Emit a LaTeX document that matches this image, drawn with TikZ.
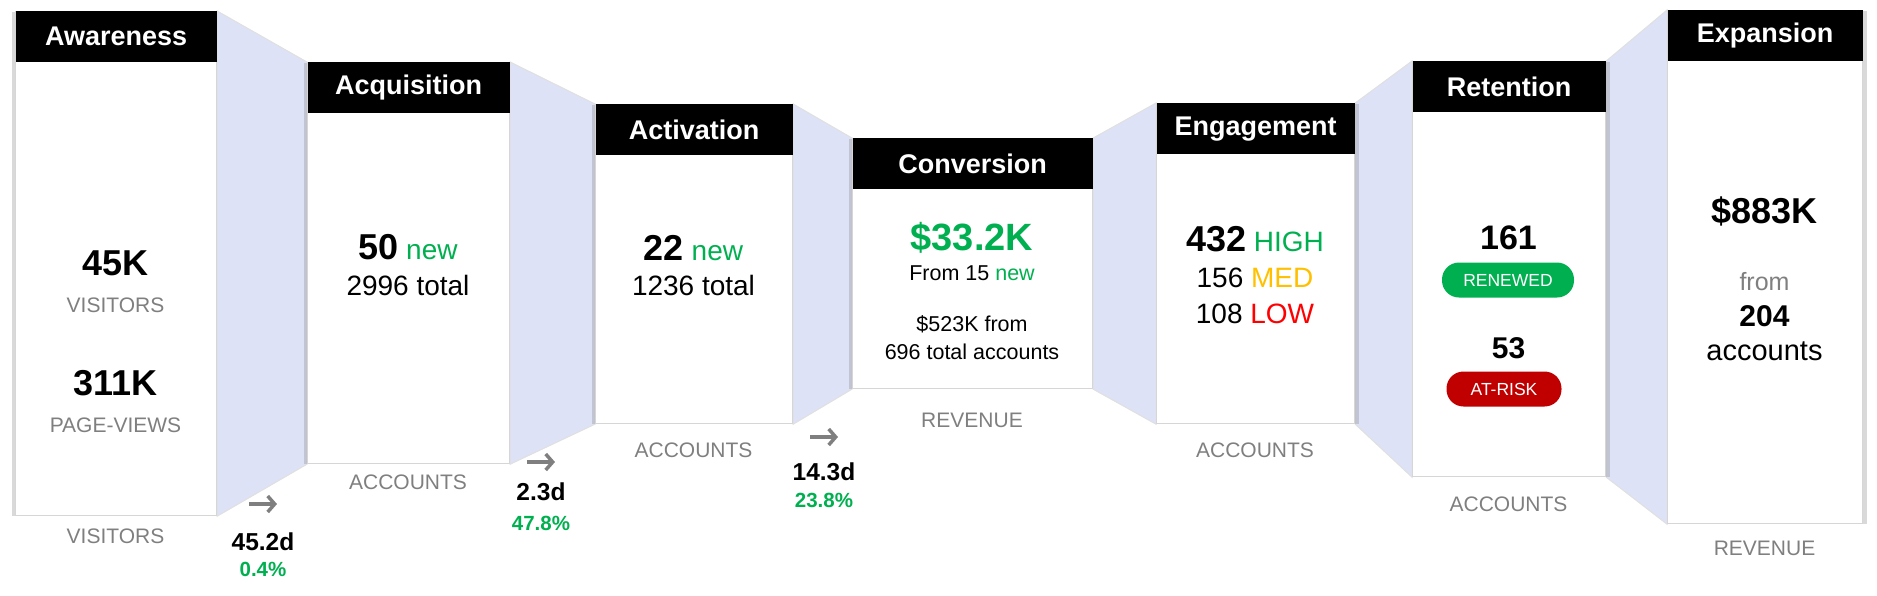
\documentclass[tikz,border=0pt]{standalone}
\usepackage{fontspec}
\setmainfont{Liberation Sans}
\usepackage{xcolor}
\usetikzlibrary{arrows.meta,shadows,backgrounds}
\definecolor{LV}{HTML}{DEE2F6}
\definecolor{GR}{HTML}{00B050}
\definecolor{RD}{HTML}{FF0000}
\definecolor{YL}{HTML}{FFC000}
\definecolor{DR}{HTML}{C00000}
\definecolor{GY}{HTML}{7F7F7F}
\newcommand\bigfig[1]{{\fontsize{36}{40}\selectfont\bfseries #1}}

\begin{document}
\begin{tikzpicture}[x=1pt, y=-1pt,
  stagebody/.style={draw=black!16, line width=1.2pt, fill=white, anchor=north west, inner sep=0pt},
  shadowl/.style={drop shadow={shadow xshift=-4pt, shadow yshift=0pt, opacity=0.3}},
  shadowr/.style={drop shadow={shadow xshift=4pt, shadow yshift=0pt, opacity=0.3}},
  stagehead/.style={fill=black, text=white, anchor=north, minimum height=51pt, inner sep=0pt, font=\fontsize{27}{30}\selectfont\bfseries},
  funnel/.style={fill=LV, draw=black!12, line width=1pt},
  bignum/.style={font=\fontsize{36}{40}\selectfont\bfseries},
  midtxt/.style={font=\fontsize{28}{32}\selectfont},
  smalltxt/.style={font=\fontsize{21.5}{28}\selectfont, align=center},
  greylab/.style={text=GY, font=\fontsize{21}{24}\selectfont},
  pill/.style={rounded corners=17pt, text=white, minimum height=35pt, inner sep=0pt, font=\fontsize{17.5}{20}\selectfont},
  steparrow/.style={draw=GY, line width=3.5pt, -{Straight Barb[length=7pt, width=16pt]}},
  daystxt/.style={font=\fontsize{24.5}{28}\selectfont\bfseries},
  ratetxt/.style={text=GR, font=\fontsize{20.5}{24}\selectfont\bfseries}]%
\useasboundingbox (0,0) rectangle (1877,595);%
\node[stagebody, shadowl, minimum width=201pt, minimum height=504pt] (aw) at (15,11) {};%
\node[stagebody, shadowl, minimum width=202pt, minimum height=401pt] (acq) at (307,62) {};%
\node[stagebody, shadowl, minimum width=197pt, minimum height=319pt] (act) at (595,104) {};%
\node[stagebody, shadowl, minimum width=240pt, minimum height=250pt] (conv) at (852,138) {};%
\node[stagebody, shadowr, minimum width=198pt, minimum height=320pt] (eng) at (1156,103) {};%
\node[stagebody, shadowr, minimum width=193pt, minimum height=415pt] (ret) at (1412,61) {};%
\node[stagebody, shadowr, minimum width=195pt, minimum height=513pt] (exp) at (1667,10) {};%
\node[stagehead, minimum width=201pt] (awh) at (aw.north) {Awareness};%
\node[stagehead, minimum width=202pt] (acqh) at (acq.north) {Acquisition};%
\node[stagehead, minimum width=197pt] (acth) at (act.north) {Activation};%
\node[stagehead, minimum width=240pt] (convh) at (conv.north) {Conversion};%
\node[stagehead, minimum width=198pt] (engh) at (eng.north) {Engagement};%
\node[stagehead, minimum width=193pt] (reth) at (ret.north) {Retention};%
\node[stagehead, minimum width=195pt] (exph) at (exp.north) {Expansion};%
\begin{scope}[on background layer]%
\draw[funnel] (aw.north east) -- (acq.north west) -- (acq.south west) -- (aw.south east) -- cycle;%
\draw[funnel] (acq.north east) -- (act.north west) -- (act.south west) -- (acq.south east) -- cycle;%
\draw[funnel] (act.north east) -- (conv.north west) -- (conv.south west) -- (act.south east) -- cycle;%
\draw[funnel] (conv.north east) -- (eng.north west) -- (eng.south west) -- (conv.south east) -- cycle;%
\draw[funnel] (eng.north east) -- (ret.north west) -- (ret.south west) -- (eng.south east) -- cycle;%
\draw[funnel] (ret.north east) -- (exp.north west) -- (exp.south west) -- (ret.south east) -- cycle;%
\end{scope}%
\node[bignum] (awv) at (115.5,263) {45K};%
\node[greylab] (awvl) at (115.5,305) {VISITORS};%
\node[bignum] (awp) at (115.5,383) {311K};%
\node[greylab] (awpl) at (115.5,425) {PAGE-VIEWS};%
\node[greylab] (awu) at (115.5,536) {VISITORS};%
\node[midtxt] (acqn) at (408,247) {\bigfig{50} \textcolor{GR}{new}};%
\node[midtxt] (acqt) at (408,285) {2996 total};%
\node[greylab] (acqu) at (408,482) {ACCOUNTS};%
\node[midtxt] (actn) at (693.5,248) {\bigfig{22} \textcolor{GR}{new}};%
\node[midtxt] (actt) at (693.5,285) {1236 total};%
\node[greylab] (actu) at (693.5,450) {ACCOUNTS};%
\node[text=GR, font=\fontsize{38}{42}\selectfont\bfseries] (convv) at (972,238) {\$33.2K};%
\node[smalltxt] (convn) at (972,273) {From 15 \textcolor{GR}{new}};%
\node[smalltxt] (convt) at (972,338) {\$523K from\\696 total accounts};%
\node[greylab] (convu) at (972,420) {REVENUE};%
\node[midtxt] (engh1) at (1255,239) {\bigfig{432} \textcolor{GR}{HIGH}};%
\node[midtxt] (engm) at (1255,278) {156 \textcolor{YL}{MED}};%
\node[midtxt] (engl) at (1255,314) {108 \textcolor{RD}{LOW}};%
\node[greylab] (engu) at (1255,450) {ACCOUNTS};%
\node[font=\fontsize{34}{38}\selectfont\bfseries] (retr) at (1508.5,238) {161};%
\node[pill, fill=GR, minimum width=132pt] (retrp) at (1508,280) {RENEWED};%
\node[font=\fontsize{30}{34}\selectfont\bfseries] (reta) at (1508.5,348) {53};%
\node[pill, fill=DR, minimum width=115pt] (retap) at (1504,389) {AT-RISK};%
\node[greylab] (retu) at (1508.5,504) {ACCOUNTS};%
\node[bignum] (expv) at (1764.5,211) {\$883K};%
\node[text=GY, font=\fontsize{25}{28}\selectfont] (expf) at (1764.5,282) {from};%
\node[font=\fontsize{30}{34}\selectfont\bfseries] (expn) at (1764.5,316) {204};%
\node[font=\fontsize{29}{32}\selectfont] (expa) at (1764.5,351) {accounts};%
\node[greylab] (expu) at (1764.5,548) {REVENUE};%
\coordinate (t1s) at (249,504);%
\coordinate (t1e) at (277,504);%
\draw[steparrow] (t1s) -- (t1e);%
\node[daystxt] (t1d) at (263,542) {45.2d};%
\node[ratetxt] (t1r) at (263,569) {0.4\%};%
\coordinate (t2s) at (527,462);%
\coordinate (t2e) at (555,462);%
\draw[steparrow] (t2s) -- (t2e);%
\node[daystxt] (t2d) at (541,492) {2.3d};%
\node[ratetxt] (t2r) at (541,523) {47.8\%};%
\coordinate (t3s) at (810,437);%
\coordinate (t3e) at (838,437);%
\draw[steparrow] (t3s) -- (t3e);%
\node[daystxt] (t3d) at (824,472) {14.3d};%
\node[ratetxt] (t3r) at (824,500) {23.8\%};%
\end{tikzpicture}
\end{document}
